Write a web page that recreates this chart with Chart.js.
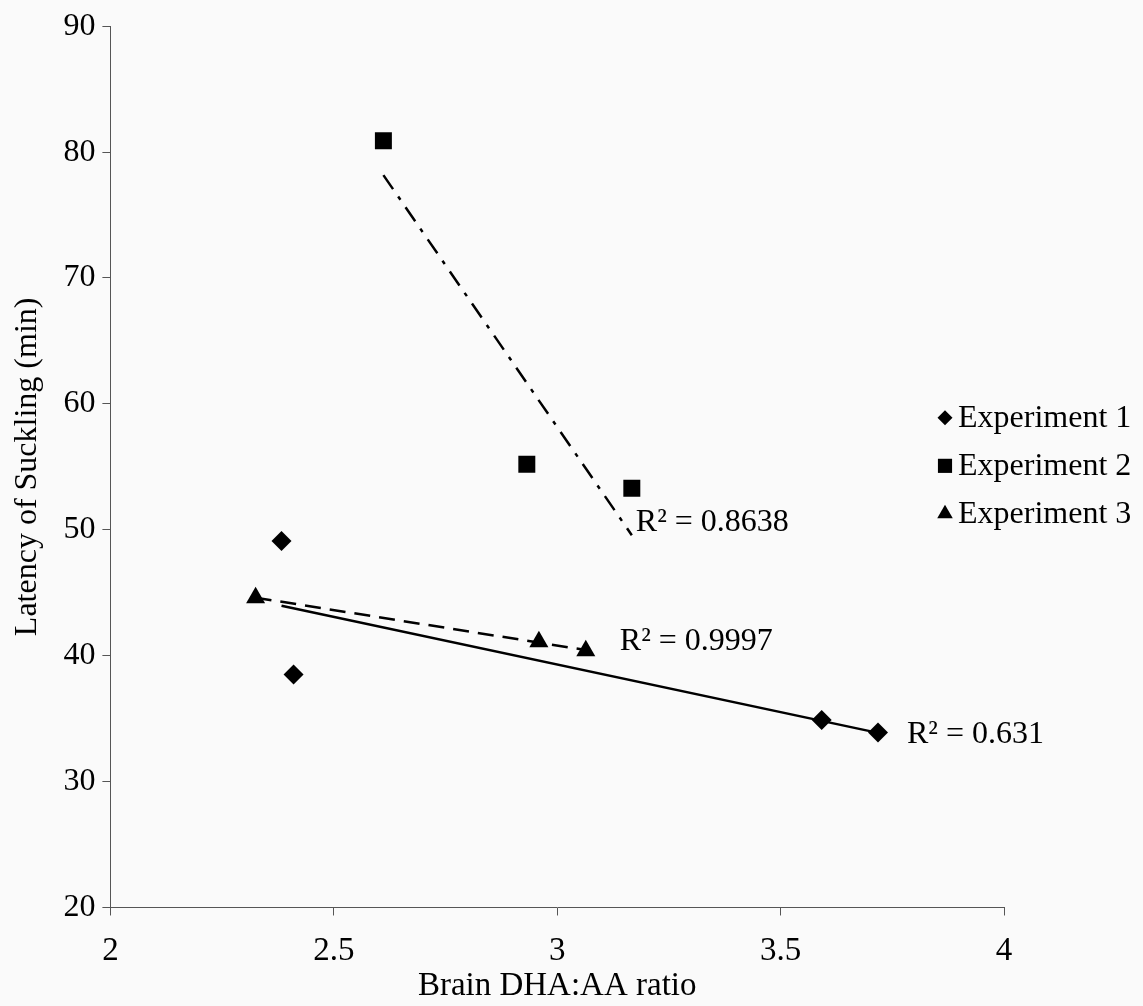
<!DOCTYPE html>
<html>
<head>
<meta charset="utf-8">
<script src="https://cdn.jsdelivr.net/npm/chart.js@4.4.1/dist/chart.umd.min.js"></script>
<style>
  html, body { margin: 0; padding: 0; background: #fafafa; }
  #wrap { width: 1143px; height: 1006px; }
</style>
</head>
<body>
<div id="wrap"><canvas id="scatter-chart"></canvas></div>
<script>
const seriesNames = ["Experiment 1", "Experiment 2", "Experiment 3"];
const exp1X = [2.383, 2.41, 3.592, 3.718];
const exp1Y = [49.1, 38.5, 34.9, 33.9];
const exp2X = [2.611, 2.932, 3.167];
const exp2Y = [80.9, 55.2, 53.3];
const exp3X = [2.325, 2.959, 3.064];
const exp3Y = [44.6, 41.1, 40.4];
const rSquaredLabels = ["R\u00B2 = 0.631", "R\u00B2 = 0.8638", "R\u00B2 = 0.9997"];
const xTicks = [2, 2.5, 3, 3.5, 4];
const yTicks = [20, 30, 40, 50, 60, 70, 80, 90];

const serif = "'Liberation Serif', 'Times New Roman', serif";
Chart.defaults.font.family = serif;
Chart.defaults.color = "#000";

// pair x and y arrays into points
function toPoints(xs, ys) {
  return xs.map((x, i) => ({ x: x, y: ys[i] }));
}

// least squares line, drawn from the first to the last x like an Excel trendline
function trendline(xs, ys) {
  const n = xs.length;
  const mx = xs.reduce((a, b) => a + b) / n;
  const my = ys.reduce((a, b) => a + b) / n;
  let sxy = 0, sxx = 0;
  xs.forEach((x, i) => {
    sxy += (x - mx) * (ys[i] - my);
    sxx += (x - mx) * (x - mx);
  });
  const slope = sxy / sxx;
  const x0 = Math.min(...xs), x1 = Math.max(...xs);
  return [
    { x: x0, y: my + slope * (x0 - mx) },
    { x: x1, y: my + slope * (x1 - mx) },
  ];
}

const pointStyles = ["rectRot", "rect", "triangle"];
const pointSizes = [10, 12, 11];
const lineDashes = [[], [17, 9, 4, 9], [16, 9]];
const labelOffsets = [[29, 2], [4, -13], [34, -8]];

const xsList = [exp1X, exp2X, exp3X];
const ysList = [exp1Y, exp2Y, exp3Y];

const datasets = [];
xsList.forEach((xs, i) => {
  datasets.push({
    label: seriesNames[i],
    data: toPoints(xs, ysList[i]),
    pointStyle: pointStyles[i],
    pointRadius: pointSizes[i],
    pointHoverRadius: pointSizes[i],
    backgroundColor: "#000",
    borderColor: "#000",
    borderWidth: 0,
    showLine: false,
    order: 0,
  });
});
xsList.forEach((xs, i) => {
  datasets.push({
    label: "trend " + (i + 1),
    data: trendline(xs, ysList[i]),
    showLine: true,
    pointRadius: 0,
    borderColor: "#000",
    borderWidth: 2.5,
    borderDash: lineDashes[i],
    fill: false,
    order: 1,
  });
});

// legend drawn over the plot area, as in the original
const legendPlugin = {
  id: "overlayLegend",
  afterDraw(chart) {
    const ctx = chart.ctx;
    const area = chart.chartArea;
    const x = area.right - 59;
    const midY = (area.top + area.bottom) / 2;
    const legendSizes = [7.5, 10, 9];
    ctx.save();
    ctx.fillStyle = "#000";
    ctx.strokeStyle = "#000";
    ctx.font = "32px " + serif;
    ctx.textBaseline = "middle";
    seriesNames.forEach((name, i) => {
      const y = midY + (i - 1) * 48 - 1;
      Chart.helpers.drawPoint(ctx, { pointStyle: pointStyles[i], radius: legendSizes[i], rotation: 0, borderWidth: 0 }, x, y);
      ctx.fillText(name, x + 13, y + 1);
    });
    ctx.restore();
  },
};

// R squared labels next to the end of each trendline
const rSquaredPlugin = {
  id: "rSquared",
  afterDraw(chart) {
    const ctx = chart.ctx;
    const xs = chart.scales.x, ys = chart.scales.y;
    ctx.save();
    ctx.fillStyle = "#000";
    ctx.font = "32px " + serif;
    ctx.textBaseline = "middle";
    rSquaredLabels.forEach((text, i) => {
      const end = chart.data.datasets[3 + i].data[1];
      const px = xs.getPixelForValue(end.x) + labelOffsets[i][0];
      const py = ys.getPixelForValue(end.y) + labelOffsets[i][1];
      ctx.fillText(text, px, py);
    });
    ctx.restore();
  },
};

const axisColor = "#555";

const config = {
  type: "scatter",
  data: { datasets: datasets },
  options: {
    responsive: true,
    maintainAspectRatio: false,
    animation: false,
    layout: { padding: { left: 8, right: 139, top: 10, bottom: 0 } },
    plugins: {
      legend: { display: false },
      tooltip: { enabled: false },
    },
    scales: {
      x: {
        type: "linear",
        min: 2,
        max: 4,
        afterBuildTicks: (scale) => {
          scale.ticks = xTicks.map((v) => ({ value: v }));
        },
        ticks: {
          font: { size: 33, lineHeight: 1.94 },
          padding: 4,
          autoSkip: false,
          maxRotation: 0,
          callback: (v) => String(v),
        },
        grid: { drawOnChartArea: false, tickLength: 8, color: axisColor },
        border: { color: axisColor, width: 1 },
        title: {
          display: true,
          text: "Brain DHA:AA ratio",
          font: { size: 33, lineHeight: 1 },
          padding: { top: -18, bottom: 3.5 },
        },
      },
      y: {
        type: "linear",
        min: 20,
        max: 90,
        afterBuildTicks: (scale) => {
          scale.ticks = yTicks.map((v) => ({ value: v }));
        },
        ticks: { font: { size: 32 }, padding: 7 },
        grid: { drawOnChartArea: false, tickLength: 8, color: axisColor },
        border: { color: axisColor, width: 1 },
        title: {
          display: true,
          text: "Latency of Suckling (min)",
          font: { size: 32 },
          padding: { top: 0, bottom: 10 },
        },
      },
    },
  },
  plugins: [legendPlugin, rSquaredPlugin],
};

const ctx = document.getElementById("scatter-chart");
const scatterChart = new Chart(ctx, config);
</script>
</body>
</html>
